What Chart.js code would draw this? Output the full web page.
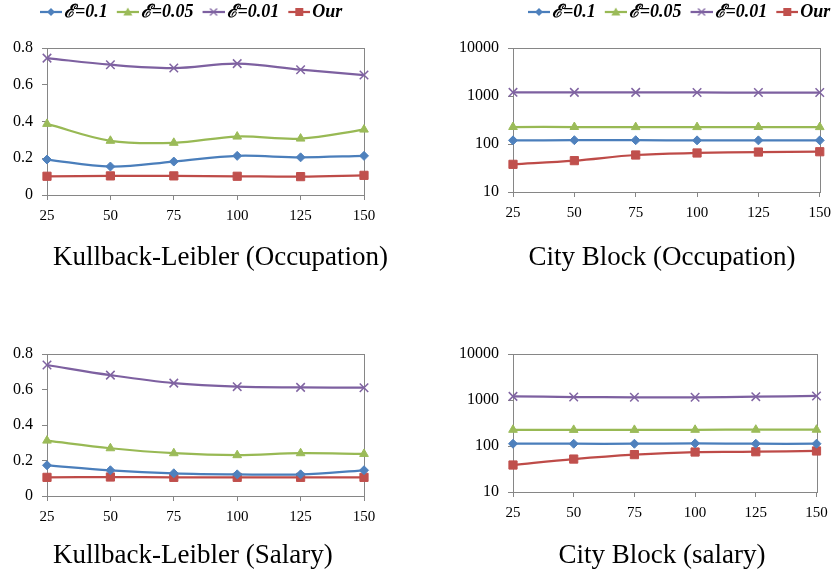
<!DOCTYPE html>
<html><head><meta charset="utf-8">
<script src="https://cdn.jsdelivr.net/npm/chart.js@4/dist/chart.umd.min.js"></script>
<style>
html,body{margin:0;padding:0;background:#fff;width:838px;height:576px;overflow:hidden;}
canvas{position:absolute;}
</style></head><body>
<canvas id="c1" width="419" height="288" style="left:0;top:0"></canvas>
<canvas id="c2" width="419" height="288" style="left:419px;top:0"></canvas>
<canvas id="c3" width="419" height="288" style="left:0;top:288px"></canvas>
<canvas id="c4" width="419" height="288" style="left:419px;top:288px"></canvas>
<script>
// ---- data ----
const xLabels = ['25', '50', '75', '100', '125', '150'];
const seriesNames = ['\u2130=0.1', '\u2130=0.05', '\u2130=0.01', 'Our'];
const klTicks = [0, 0.2, 0.4, 0.6, 0.8];
const cbTicks = [10, 100, 1000, 10000];

const klOccE01  = [0.193, 0.155, 0.182, 0.213, 0.205, 0.213];
const klOccE005 = [0.387, 0.295, 0.284, 0.318, 0.307, 0.356];
const klOccE001 = [0.745, 0.709, 0.691, 0.715, 0.682, 0.653];
const klOccOur  = [0.102, 0.104, 0.104, 0.102, 0.100, 0.107];

const cbOccE01  = [119, 120, 120, 119, 119, 119];
const cbOccE005 = [226, 226, 225, 225, 226, 225];
const cbOccE001 = [1192, 1190, 1190, 1185, 1180, 1180];
const cbOccOur  = [37.7, 45, 59, 65, 68, 69];

const klSalE01  = [0.173, 0.145, 0.128, 0.122, 0.122, 0.145];
const klSalE005 = [0.312, 0.269, 0.241, 0.230, 0.241, 0.237];
const klSalE001 = [0.738, 0.681, 0.636, 0.616, 0.612, 0.610];
const klSalOur  = [0.105, 0.107, 0.105, 0.105, 0.105, 0.105];

const cbSalE01  = [112, 112, 112, 114, 112, 112];
const cbSalE005 = [225, 224, 224, 225, 226, 226];
const cbSalE001 = [1200, 1162, 1143, 1143, 1182, 1222];
const cbSalOur  = [38.6, 52, 65, 74, 75, 78];

// ---- styles ----
const FONT = "'Liberation Serif', 'Times New Roman', 'DejaVu Serif', serif";
const AXIS = '#868686';
const LEG_FS = 18, LEG_PAD = 4, TITLE_FS = 27;
const styles = [
  {line: '#4A7EBB', fill: '#4F81BD', shape: 'rectRot', r: 4.5, bw: 1},
  {line: '#98B954', fill: '#9BBB59', shape: 'triangle', r: 5, bw: 1},
  {line: '#7D60A0', fill: '#8064A2', shape: 'crossRot', r: 6, bw: 1.5},
  {line: '#BE4B48', fill: '#C0504D', shape: 'rect', r: 5.8, bw: 1}
];

function icon(st) {
  const c = document.createElement('canvas');
  c.width = 34; c.height = 14;
  const g = c.getContext('2d');
  g.strokeStyle = st.line; g.lineWidth = 2.25;
  g.beginPath(); g.moveTo(12, 7); g.lineTo(34, 7); g.stroke();
  const cx = 23, cy = 7;
  g.fillStyle = st.fill; g.strokeStyle = st.fill; g.lineWidth = 1.3;
  g.beginPath();
  if (st.shape === 'rectRot') {
    g.moveTo(cx, cy - 4); g.lineTo(cx + 4, cy); g.lineTo(cx, cy + 4); g.lineTo(cx - 4, cy); g.closePath(); g.fill();
  } else if (st.shape === 'triangle') {
    g.moveTo(cx, cy - 4.5); g.lineTo(cx + 4.5, cy + 3.5); g.lineTo(cx - 4.5, cy + 3.5); g.closePath(); g.fill();
  } else if (st.shape === 'crossRot') {
    g.moveTo(cx - 3.5, cy - 3.5); g.lineTo(cx + 3.5, cy + 3.5);
    g.moveTo(cx + 3.5, cy - 3.5); g.lineTo(cx - 3.5, cy + 3.5); g.stroke();
  } else {
    g.rect(cx - 4, cy - 4, 8, 8); g.fill();
  }
  return c;
}
const icons = styles.map(icon);

const placePlugin = {
  id: 'place',
  afterLayout(chart, args, o) {
    const lg = chart.legend;
    if (lg && o.legendX != null) {
      const h = lg.bottom - lg.top;
      lg.left = o.legendX - LEG_PAD; lg.right = lg.left + 2000; lg.width = 2000;
      lg.top = o.legendY - LEG_PAD - LEG_FS / 2; lg.bottom = lg.top + h;
    }
    const tb = chart.titleBlock;
    if (tb && o.titleY != null) {
      const h = tb.bottom - tb.top;
      if (o.titleAlign === 'start') { tb.left = o.titleX; tb.right = o.titleX + 1000; }
      else { tb.left = o.titleX - 500; tb.right = o.titleX + 500; }
      tb.top = o.titleY - TITLE_FS * 1.2 / 2; tb.bottom = tb.top + h;
    }
  },
  beforeDatasetsDraw(chart) {
    const a = chart.chartArea, g = chart.ctx;
    g.save(); g.strokeStyle = AXIS; g.lineWidth = 1;
    g.strokeRect(Math.round(a.left) + 0.5, Math.round(a.top) + 0.5, Math.round(a.right - a.left), Math.round(a.bottom - a.top));
    g.restore();
  }
};

function makeChart(id, series, yType, yTicks, titleText, target, place, showLegend) {
  const pad = {left: 0, right: 0, top: 0, bottom: 0};
  const gridOpts = {display: true, drawOnChartArea: false, drawTicks: true, tickLength: 5, color: AXIS};
  const tickFont = {family: FONT, size: 16};
  const datasets = series.map((d, i) => ({
    label: seriesNames[i], data: d,
    borderColor: styles[i].line, backgroundColor: styles[i].fill,
    borderWidth: 2.25, tension: 0.35, clip: false,
    pointStyle: styles[i].shape, pointRadius: styles[i].r, pointHoverRadius: styles[i].r,
    pointBackgroundColor: styles[i].fill, pointBorderColor: styles[i].fill, pointBorderWidth: styles[i].bw
  }));
  const chart = new Chart(document.getElementById(id), {
    type: 'line',
    data: {labels: xLabels, datasets},
    options: {
      responsive: false, animation: false, devicePixelRatio: 1,
      layout: {padding: pad},
      scales: {
        x: {type: 'category', offset: false, grid: gridOpts,
            border: {display: true, color: AXIS, width: 1},
            ticks: {font: {family: FONT, size: 15}, color: '#000', padding: 7, maxRotation: 0, autoSkip: false}},
        y: {type: yType, min: yTicks[0], max: yTicks[yTicks.length - 1], grid: gridOpts,
            border: {display: true, color: AXIS, width: 1},
            afterBuildTicks: s => { s.ticks = yTicks.map(v => ({value: v})); },
            ticks: {font: tickFont, color: '#000', padding: 9, callback: v => String(v)}}
      },
      plugins: {
        legend: {
          display: showLegend, position: 'top', align: 'start',
          labels: {
            usePointStyle: true, pointStyleWidth: 20, padding: LEG_PAD, color: '#000',
            font: {family: FONT, size: LEG_FS, style: 'italic', weight: 'bold'},
            generateLabels: c => Chart.defaults.plugins.legend.labels.generateLabels(c)
              .map((l, i) => Object.assign(l, {pointStyle: icons[i]}))
          }
        },
        title: {display: true, position: 'bottom', align: place.titleAlign, text: titleText, color: '#000',
                padding: 0, font: {family: FONT, size: TITLE_FS, weight: 'normal'}},
        tooltip: {enabled: false},
        place: place
      }
    },
    plugins: [placePlugin]
  });
  for (let k = 0; k < 2; k++) {
    const ca = chart.chartArea;
    pad.left += target.left - ca.left;
    pad.top += target.top - ca.top;
    pad.right += ca.right - target.right;
    pad.bottom += ca.bottom - target.bottom;
    chart.update();
  }
  return chart;
}

makeChart('c1', [klOccE01, klOccE005, klOccE001, klOccOur], 'linear', klTicks,
  'Kullback-Leibler (Occupation)', {left: 47, right: 364, top: 48, bottom: 195},
  {legendX: 35, legendY: 12, titleX: 53, titleY: 258, titleAlign: 'start'}, true);
makeChart('c2', [cbOccE01, cbOccE005, cbOccE001, cbOccOur], 'logarithmic', cbTicks,
  'City Block (Occupation)', {left: 94, right: 392, top: 48, bottom: 192},
  {legendX: 104, legendY: 12, titleX: 243, titleY: 258, titleAlign: 'center'}, true);
makeChart('c3', [klSalE01, klSalE005, klSalE001, klSalOur], 'linear', klTicks,
  'Kullback-Leibler (Salary)', {left: 47, right: 364, top: 66, bottom: 208},
  {titleX: 53, titleY: 268, titleAlign: 'start'}, false);
makeChart('c4', [cbSalE01, cbSalE005, cbSalE001, cbSalOur], 'logarithmic', cbTicks,
  'City Block (salary)', {left: 94, right: 390, top: 66, bottom: 204},
  {titleX: 243, titleY: 268, titleAlign: 'center'}, false);
</script>
</body></html>
